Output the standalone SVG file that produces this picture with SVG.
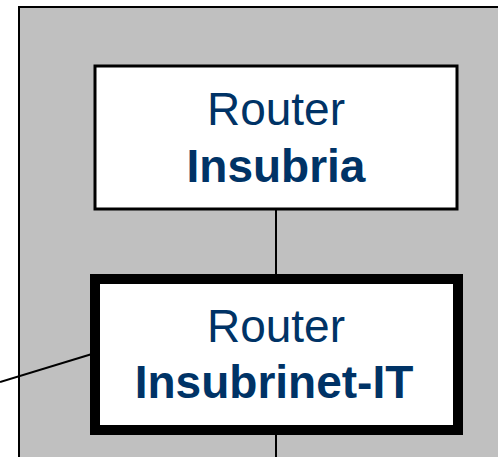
<svg xmlns="http://www.w3.org/2000/svg" width="498" height="457" viewBox="0 0 498 457">
<style>
.t{font-family:"Liberation Sans",Arial,sans-serif;font-size:46px;fill:#003366;text-anchor:middle}
.b{font-weight:bold}
.c{stroke:#000;stroke-width:2;fill:none}
</style>
<rect x="19" y="7" width="500" height="470" fill="#c0c0c0" stroke="#000" stroke-width="2"/>
<g id="connectors">
<line class="c" x1="276" y1="209" x2="276" y2="279"/>
<line class="c" x1="0" y1="382" x2="92" y2="354"/>
<line class="c" x1="276" y1="430" x2="276" y2="457"/>
</g>
<g id="router-insubria">
<rect x="95" y="66" width="362" height="143" fill="#fff" stroke="#000" stroke-width="3"/>
<text class="t" x="276" y="125">Router</text>
<text class="t b" x="276" y="182">Insubria</text>
</g>
<g id="router-insubrinet-it">
<rect x="95" y="279" width="363" height="151" fill="#fff" stroke="#000" stroke-width="10"/>
<text class="t" x="276" y="342">Router</text>
<text class="t b" x="274" y="398">Insubrinet-IT</text>
</g>
</svg>
